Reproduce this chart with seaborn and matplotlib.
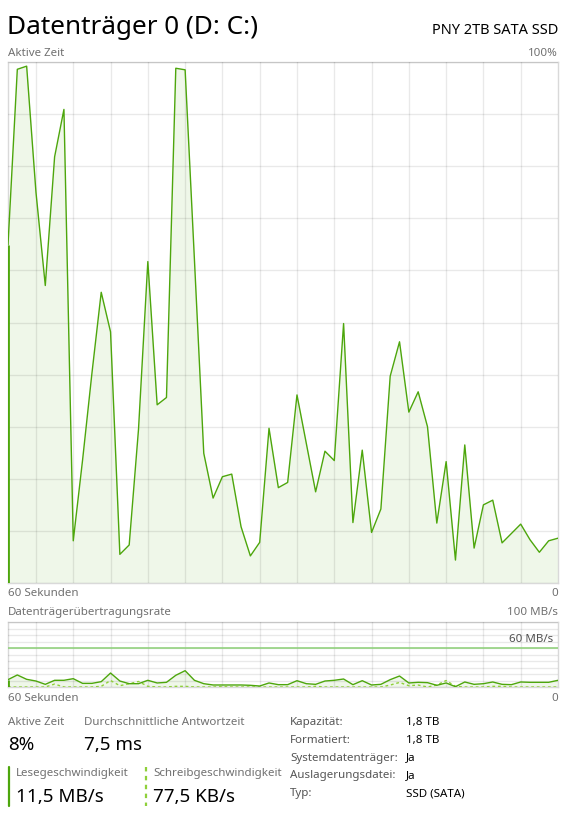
import numpy as np
import pandas as pd
import seaborn as sns
import matplotlib.pyplot as plt

W, H = 573, 817

# Aktive Zeit in %, one sample per second, oldest first
active_time = [64.9, 98.6, 99.2, 75.0, 57.1, 81.8, 90.9, 8.1, 23.6, 40.2,
               55.8, 48.2, 5.5, 7.3, 29.5, 61.7, 34.2, 35.6, 98.8, 98.5,
               62.0, 24.9, 16.3, 20.4, 20.9, 10.8, 5.2, 7.8, 29.7, 18.3,
               19.3, 36.1, 26.8, 17.5, 25.3, 23.5, 49.8, 11.6, 25.5, 9.7,
               14.2, 39.7, 46.3, 32.8, 36.7, 30.0, 11.5, 23.3, 4.4, 26.5,
               6.7, 15.0, 15.9, 7.7, 9.5, 11.3, 8.3, 5.9, 8.1, 8.6]

# Datenträgerübertragungsrate in MB/s
read_mb = [11.3, 18.5, 11.8, 9.2, 4.1, 10.3, 10.3, 12.8, 5.6, 5.6,
           8.2, 21.5, 9.2, 5.1, 5.1, 10.3, 6.2, 7.2, 18.0, 25.1,
           10.3, 5.1, 3.1, 3.1, 3.1, 3.1, 2.6, 1.5, 6.2, 3.6,
           3.6, 9.7, 5.1, 4.1, 9.2, 10.3, 12.3, 3.6, 9.7, 3.1,
           4.1, 11.3, 16.9, 6.2, 7.2, 6.7, 2.6, 6.2, 0.5, 7.7,
           4.1, 5.1, 7.7, 4.1, 3.6, 7.7, 7.2, 7.2, 7.2, 10.3]
write_mb = [0, 0, 0, 0, 0, 4.5, 0, 0, 0, 0,
            1, 10, 2, 5, 8.5, 1, 0, 0, 1, 1,
            0, 0, 0, 0.5, 0, 0, 0, 0, 0, 0,
            0, 0, 0, 1, 0, 0, 0, 0, 0, 0,
            0, 3, 7, 2, 3, 0, 3, 10, 1, 0,
            0, 0, 1, 1, 0, 0, 0, 0, 0, 0]
peak_mb = 60

seconds = np.arange(len(active_time))
df = pd.DataFrame({"t": seconds, "aktiv": active_time, "lesen": read_mb, "schreiben": write_mb})

info_labels = ["Kapazität:", "Formatiert:", "Systemdatenträger:", "Auslagerungsdatei:", "Typ:"]
info_values = ["1,8 TB", "1,8 TB", "Ja", "Ja", "SSD (SATA)"]

LINE = "#4da60c"
FILL = "#eff7e9"
WRITE = "#8fd03a"
PEAK = "#93d27f"
GREY = "#707070"
EDGE = "#d9d9d9"

sns.set_style("white")
plt.rcParams["font.family"] = ["Noto Sans", "DejaVu Sans"]

fig = plt.figure(figsize=(W / 100, H / 100), dpi=100)


def rect(x0, y0, x1, y1):
    return [x0 / W, 1 - y1 / H, (x1 - x0) / W, (y1 - y0) / H]


def txt(x, y, s, size=8.3, color=GREY, ha="left", **kw):
    fig.text(x / W, 1 - y / H, s, fontsize=size, color=color, ha=ha, va="baseline", **kw)


def style_axes(ax, ymax):
    ax.set_xlim(seconds[0], seconds[-1])
    ax.set_ylim(0, ymax)
    ax.set_xticks(np.arange(3, 59, 4))
    ax.set_yticks(np.linspace(0, ymax, 11))
    ax.grid(True, color="#000000", alpha=0.085, linewidth=1.0, zorder=2)
    ax.tick_params(length=0, labelbottom=False, labelleft=False)
    ax.set_xlabel("")
    ax.set_ylabel("")
    for sp in ax.spines.values():
        sp.set_color(EDGE)
        sp.set_linewidth(1.0)
    ax.set_axisbelow(False)


# main chart: Aktive Zeit
ax1 = fig.add_axes(rect(8, 62, 558, 583))
ax1.fill_between(df["t"], df["aktiv"], color=FILL, zorder=1, linewidth=0)
sns.lineplot(data=df, x="t", y="aktiv", ax=ax1, color=LINE, linewidth=1.0, zorder=3)
ax1.vlines(seconds[0], 0, active_time[0], color=LINE, linewidth=2.0, zorder=3)
style_axes(ax1, 100)

# transfer rate chart
ax2 = fig.add_axes(rect(8, 622, 558, 687))
ax2.fill_between(df["t"], df["lesen"], color=FILL, zorder=1, linewidth=0)
ax2.axhline(peak_mb, color=PEAK, linewidth=1.2, zorder=3)
sns.lineplot(data=df, x="t", y="schreiben", ax=ax2, color=WRITE, linewidth=1.0,
             linestyle=(0, (2, 2)), zorder=3)
sns.lineplot(data=df, x="t", y="lesen", ax=ax2, color=LINE, linewidth=1.0, zorder=4)
ax2.vlines(seconds[0], 0, read_mb[0], color=LINE, linewidth=2.0, zorder=4)
style_axes(ax2, 100)

# header
txt(7, 34, "Datenträger 0 (D: C:)", size=18.8, color="#000000")
txt(558, 34, "PNY 2TB SATA SSD", size=10.5, color="#000000", ha="right")
txt(8, 56, "Aktive Zeit")
txt(558, 56, "100%", ha="right")
txt(8, 596, "60 Sekunden")
txt(558, 596, "0", ha="right")
txt(8, 615, "Datenträgerübertragungsrate")
txt(558, 615, "100 MB/s", ha="right")
txt(553, 642, "60 MB/s", ha="right", color="#505050")
txt(8, 701, "60 Sekunden")
txt(558, 701, "0", ha="right")

# bottom statistics
txt(8, 725, "Aktive Zeit")
txt(84, 725, "Durchschnittliche Antwortzeit")
txt(8, 750, "8%", size=13.5, color="#000000")
txt(84, 750, "7,5 ms", size=13.5, color="#000000")

fig.add_artist(plt.Line2D([8.5 / W, 8.5 / W], [1 - 767 / H, 1 - 806 / H], color=LINE, linewidth=1.6))
fig.add_artist(plt.Line2D([146 / W, 146 / W], [1 - 767 / H, 1 - 806 / H], color=WRITE,
                          linewidth=1.6, linestyle=(0, (2, 2))))
txt(16, 776, "Lesegeschwindigkeit")
txt(16, 802, "11,5 MB/s", size=13.5, color="#000000")
txt(153, 776, "Schreibgeschwindigkeit")
txt(153, 802, "77,5 KB/s", size=13.5, color="#000000")

for i, (lab, val) in enumerate(zip(info_labels, info_values)):
    yb = 725 + i * 17.75
    txt(290, yb, lab, color="#555555")
    txt(406, yb, val, color="#000000")

fig.savefig("out.png", dpi=100)
